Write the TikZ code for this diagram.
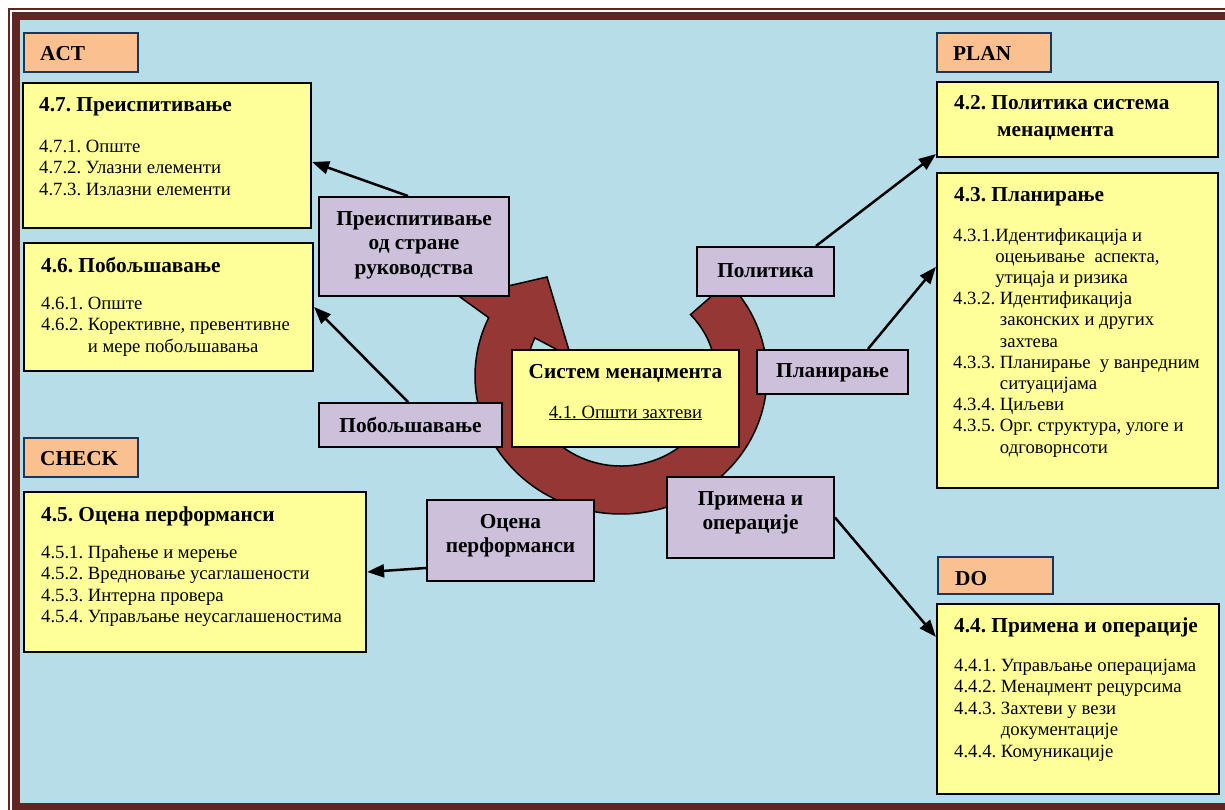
\documentclass[tikz,border=0pt]{standalone}
\usepackage{fontspec}
\setmainfont{Liberation Serif}
\usetikzlibrary{arrows.meta,calc,fit}

\definecolor{framered}{HTML}{632523}
\definecolor{skyblue}{HTML}{B7DDE8}
\definecolor{paleyellow}{HTML}{FFFF99}
\definecolor{lilac}{HTML}{CCC0DA}
\definecolor{peach}{HTML}{FAC090}
\definecolor{ringred}{HTML}{953735}
\definecolor{navyedge}{HTML}{17375E}

\begin{document}
\frenchspacing
\begin{tikzpicture}[x=1bp, y=-1bp,
  panel/.style={draw=black, line width=2.2bp, fill=paleyellow, inner sep=0pt},
  tagbox/.style={draw=black, line width=2bp, fill=lilac, inner sep=0pt},
  phase/.style={draw=navyedge, line width=2bp, fill=peach, inner sep=0pt},
  headtxt/.style={font=\fontsize{21.3bp}{24.5bp}\selectfont\bfseries, inner sep=0pt, anchor=base west, align=left},
  bodytxt/.style={font=\fontsize{18.7bp}{21.5bp}\selectfont, inner sep=0pt, anchor=base west, align=left},
  tagtxt/.style={font=\fontsize{21.3bp}{24.5bp}\selectfont\bfseries, inner sep=0pt, anchor=base, align=center},
  link/.style={line width=2.5bp, -{Triangle[length=17bp,width=13bp]}}
]
% page and double frame
\clip (0,0) rectangle (1225,810);
\fill[white] (0,0) rectangle (1225,810);
\draw[framered, line width=2bp] (9,9) rectangle (1300,900);
\fill[framered] (12,12) rectangle (1300,900);
\fill[skyblue] (20,20) rectangle (1300,803);

% circular cycle arrow
\coordinate (rc) at (621,376);
\filldraw[fill=ringred, draw=black, line width=1.5bp]
  ($(rc)+(-43:146 and 138)$) arc[start angle=-43, end angle=205, x radius=146, y radius=138]
  -- (460,297) -- (547,277) -- (571,357)
  -- ($(rc)+(205:95 and 90)$) arc[start angle=205, end angle=-43, x radius=95, y radius=90]
  -- cycle;

% central box
\node (hub) [panel, line width=2bp, fit={(512,350) (739,447)}] {};
\node (hubtitle) [tagtxt] at (625.5,378) {Систем менаџмента};
\node (hubsub) [font=\fontsize{18.7bp}{21.5bp}\selectfont, inner sep=0pt, anchor=base] at (625.5,418) {\underline{4.1. Општи захтеви}};

% clause panels
\node (p47) [panel, fit={(23,83) (311,228)}] {};
\node (p46) [panel, fit={(24,243) (313,371)}] {};
\node (p45) [panel, fit={(24,492) (366,652)}] {};
\node (p42) [panel, fit={(937,82) (1218,157)}] {};
\node (p43) [panel, fit={(937,173) (1218,488)}] {};
\node (p44) [panel, fit={(937,604) (1219,794)}] {};

% process tags
\node (rev) [tagbox, fit={(319,197) (509,296)}] {};
\node (pol) [tagbox, fit={(697,247) (834,296)}] {};
\node (planb) [tagbox, fit={(757,350) (908,394)}] {};
\node (imp) [tagbox, fit={(319,403) (502,447)}] {};
\node (eval) [tagbox, fit={(427,500) (594,581)}] {};
\node (apply) [tagbox, fit={(667,477) (834,558)}] {};

% PDCA phase labels
\node (act) [phase, fit={(24,33) (138,72)}] {};
\node (plan) [phase, fit={(937,33) (1051,72)}] {};
\node (check) [phase, fit={(24,438) (138,477)}] {};
\node (do) [phase, fit={(938,557) (1053,594)}] {};

% connectors
\draw[link] ([xshift=-6bp]rev.north) -- ([yshift=-6.5bp]p47.east);
\draw[link] ([xshift=-2.5bp]imp.north) -- (p46.east);
\draw[link] ([yshift=-27.5bp]eval.west) -- (p45.east);
\draw[link] (apply.east) -- ([yshift=-34bp]p44.north west);
\draw[link] ([xshift=-19bp]pol.north east) -- ([yshift=4bp]p42.south west);
\draw[link] ([xshift=-41bp]planb.north east) -- ([yshift=-95bp]p43.north west);

% phase texts
\node (acttxt) [headtxt] at (40,61) {ACT};
\node (plantxt) [headtxt] at (953,61) {PLAN};
\node (checktxt) [headtxt] at (40,465) {CHECK};
\node (dotxt) [headtxt] at (955,585) {DO};

% tag texts (multi-line nodes are placed by the baseline of their last line)
\node (revtxt) [tagtxt] at (414,274) {Преиспитивање\\од стране\\руководства};
\node (poltxt) [tagtxt] at (765.5,277) {Политика};
\node (plantagtxt) [tagtxt] at (832.5,377) {Планирање};
\node (imptxt) [tagtxt] at (410.5,432) {Побољшавање};
\node (evaltxt) [tagtxt] at (510.5,552.5) {Оцена\\перформанси};
\node (applytxt) [tagtxt] at (750.5,529.5) {Примена и\\операције};

% panel texts
\node (h47) [headtxt] at (39,112) {4.7. Преиспитивање};
\node (b47) [bodytxt] at (39,195) {4.7.1. Опште\\4.7.2. Улазни елементи\\4.7.3. Излазни елементи};

\node (h46) [headtxt] at (41,272) {4.6. Побољшавање};
\node (b46) [bodytxt] at (41,352) {4.6.1. Опште\\4.6.2. Корективне, превентивне\\\phantom{4.6.2. }и мере побољшавања};

\node (h45) [headtxt] at (41,521) {4.5. Оцена перформанси};
\node (b45) [bodytxt] at (41,622.5) {4.5.1. Праћење и мерење\\4.5.2. Вредновање усаглашености\\4.5.3. Интерна провера\\4.5.4. Управљање неусаглашеностима};

\node (h42) [headtxt, font=\fontsize{21.3bp}{26bp}\selectfont\bfseries] at (954,136) {4.2. Политика система\\\hspace*{43bp}менаџмента};

\node (h43) [headtxt] at (954,201) {4.3. Планирање};
\node (b43) [bodytxt, font=\fontsize{18.7bp}{21.2bp}\selectfont] at (953,453) {4.3.1.Идентификација и\\\phantom{4.3.1.}оцењивање\ \ аспекта,\\\phantom{4.3.1.}утицаја и ризика\\4.3.2. Идентификација\\\phantom{4.3.2. }законских и других\\\phantom{4.3.2. }захтева\\4.3.3. Планирање\ \ у ванредним\\\phantom{4.3.3. }ситуацијама\\4.3.4. Циљеви\\4.3.5. Орг. структура, улоге и\\\phantom{4.3.5. }одговорнсоти};

\node (h44) [headtxt] at (954,632) {4.4. Примена и операције};
\node (b44) [bodytxt] at (954,757) {4.4.1. Управљање операцијама\\4.4.2. Менаџмент рецурсима\\4.4.3. Захтеви у вези\\\phantom{4.4.3. }документације\\4.4.4. Комуникације};
\end{tikzpicture}
\end{document}
